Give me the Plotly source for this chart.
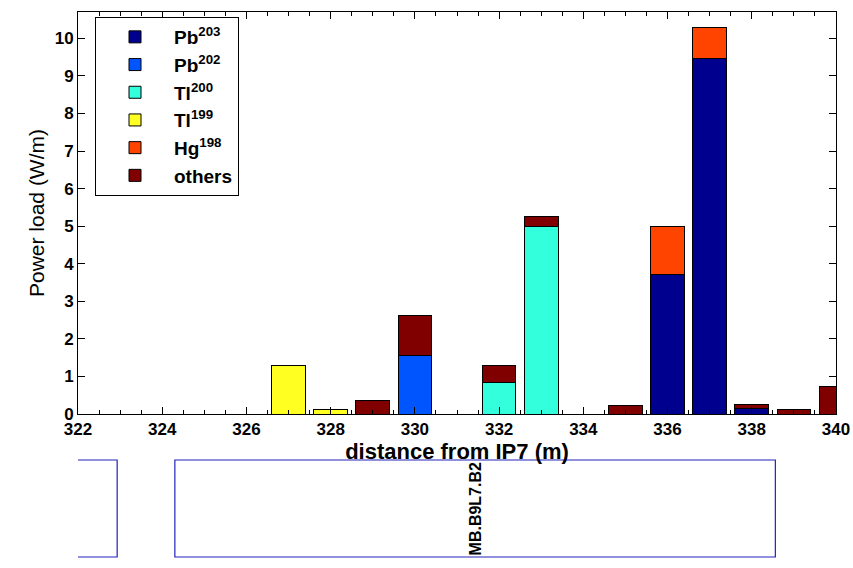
import plotly.graph_objects as go

# Data
positions = [327, 328, 329, 330, 332, 333, 335, 336, 337, 338, 339, 340]
pb203 =  [0,    0,    0,    0,    0,    0,    0,    3.70, 9.45, 0.15, 0,    0]
pb202 =  [0,    0,    0,    1.55, 0,    0,    0,    0,    0,    0,    0,    0]
tl200 =  [0,    0,    0,    0,    0.85, 5.00, 0,    0,    0,    0,    0,    0]
tl199 =  [1.30, 0.13, 0,    0,    0,    0,    0,    0,    0,    0,    0,    0]
hg198 =  [0,    0,    0,    0,    0,    0,    0,    1.30, 0.83, 0,    0,    0]
others = [0,    0,    0.37, 1.07, 0.45, 0.25, 0.22, 0,    0,    0.10, 0.13, 0.72]

series_names = ["Pb<sup>203</sup>", "Pb<sup>202</sup>", "Tl<sup>200</sup>",
                "Tl<sup>199</sup>", "Hg<sup>198</sup>", "others"]
series_vals = [pb203, pb202, tl200, tl199, hg198, others]
colors = ["#00008F", "#0055FF", "#33FFDD", "#FFFF22", "#FF4400", "#800000"]

x_ticks = [322, 324, 326, 328, 330, 332, 334, 336, 338, 340]
y_ticks = list(range(0, 11))

# lower element diagram (magnet boxes)
magnets = [(321.85, 322.93, ""), (324.3, 338.56, "MB.B9L7.B2")]

W, H = 853, 568
ml, mr, mt, mb = 78, W - 836, 12, 8
ph = H - mt - mb

def py(pix):
    return (H - mb - pix) / ph

fig = go.Figure()
for name, vals, c in zip(series_names, series_vals, colors):
    fig.add_trace(go.Bar(
        x=positions, y=vals, name=name, width=0.8,
        marker=dict(color=c, line=dict(color="black", width=1)),
    ))

font_fam = "Liberation Sans, Arial, sans-serif"

fig.update_layout(
    width=W, height=H,
    margin=dict(l=ml, r=mr, t=mt, b=mb, autoexpand=False),
    barmode="stack",
    plot_bgcolor="white", paper_bgcolor="white",
    font=dict(family=font_fam, color="black"),
    showlegend=True,
    legend=dict(
        x=(95 - 78) / (836 - 78), y=py(17), xanchor="left", yanchor="top",
        bgcolor="white", bordercolor="black", borderwidth=1,
        font=dict(size=19, family=font_fam, weight="bold"),
        traceorder="normal", itemwidth=68, tracegroupgap=0,
    ),
    xaxis=dict(
        range=[322, 340], tickvals=x_ticks, ticks="inside", ticklen=7,
        tickcolor="black", showline=True, linecolor="black", linewidth=1,
        mirror="ticks", showgrid=False, zeroline=False, automargin=False,
        tickfont=dict(size=17, family=font_fam, weight="bold"),
        minor=dict(dtick=0.5, ticks="inside", ticklen=4, tickcolor="black"),
        title=dict(text="distance from IP7 (m)", standoff=0,
                   font=dict(size=22, family=font_fam, weight="bold")),
    ),
    yaxis=dict(
        domain=[py(414), 1], range=[0, 10.7], tickvals=y_ticks,
        ticks="inside", ticklen=7, tickcolor="black",
        showline=True, linecolor="black", linewidth=1, mirror="ticks",
        showgrid=False, zeroline=False, automargin=False,
        tickfont=dict(size=17, family=font_fam, weight="bold"),
        title=dict(text="Power load (W/m)", standoff=4,
                   font=dict(size=21, family=font_fam)),
    ),
)

for x0, x1, label in magnets:
    fig.add_shape(type="rect", xref="x", yref="paper", x0=x0, x1=x1,
                  y0=py(557), y1=py(460), line=dict(color="#2222BB", width=1.2),
                  fillcolor="rgba(0,0,0,0)", layer="above")
    if label:
        fig.add_annotation(x=331.45, xref="x", y=py(508.5), yref="paper",
                           xanchor="center", yanchor="middle",
                           text=label, textangle=-90, showarrow=False,
                           font=dict(size=16, family=font_fam, weight="bold",
                                     color="black"))

fig.write_html(
    "out.html",
    config={"displayModeBar": False},
    post_script="document.body.style.margin='0';document.body.style.overflow='hidden';",
)
